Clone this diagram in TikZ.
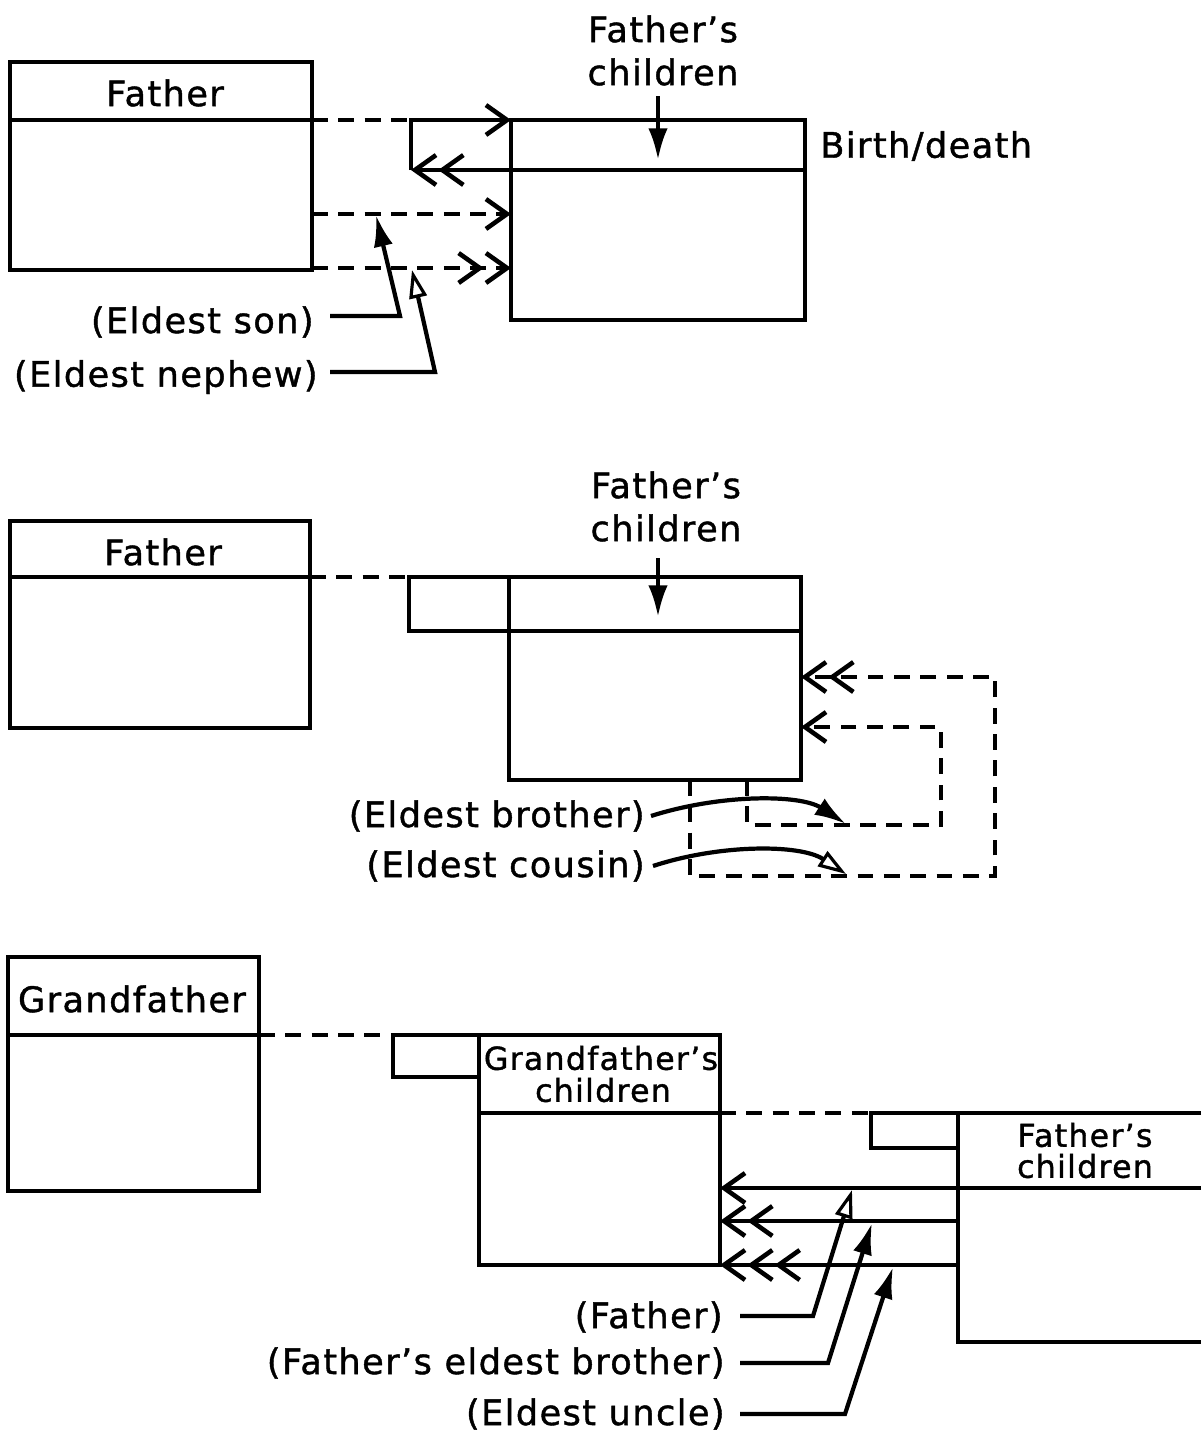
\documentclass[tikz,border=0pt]{standalone}
\usepackage{fontspec}
\setmainfont{DejaVu Sans}[LetterSpace=4,FakeBold=1.2]
\usetikzlibrary{arrows.meta}
\begin{document}
\begin{tikzpicture}[x=0.02cm,y=-0.02cm,
  ln/.style={line width=2.6pt, line join=miter},
  dsh/.style={line width=2.6pt, dash pattern=on 9pt off 6pt},
  lbl/.style={font=\fontsize{20}{22}\selectfont, inner sep=0pt},
  sml/.style={font=\fontsize{18}{20}\selectfont, inner sep=0pt},
  bA/.style={-{Straight Barb[length=12pt,width=17pt]}},
  bB/.style={-{Straight Barb[length=12pt,width=17pt,sep=0pt]Straight Barb[length=12pt,width=17pt]}},
  bC/.style={-{Straight Barb[length=12pt,width=17pt,sep=0pt]Straight Barb[length=12pt,width=17pt,sep=0pt]Straight Barb[length=12pt,width=17pt]}},
  pf/.style={line width=2.4pt,-{Latex[length=18pt,width=11pt]}},
  po/.style={line width=2.4pt,-{Triangle[open,length=16pt,width=10pt,line width=1.8pt]}}
]
\useasboundingbox (0,0) rectangle (1203,1434);

% ================= Section 1 =================
\draw[ln] (10,62) rectangle (312,270);
\draw[ln] (10,120) -- (312,120);
\node[lbl] (f1) at (165,93) {Father};

\draw[ln] (511,120) rectangle (805,320);
\node[lbl] (fc1a) at (663,29) {Father’s};
\node[lbl] (fc1b) at (663,72) {children};
\node[lbl,anchor=west] (bd) at (820,146) {Birth/death};
\coordinate (fc1in) at (658,160);
\draw[pf] (658,96) -- (fc1in);

\coordinate (c1) at (411,120);
\coordinate (c2) at (411,170);
\draw[dsh] (312,120) -- (c1);
\draw[ln,bA] (c2) -- (c1) -- (511,120);
\draw[ln,bB] (805,170) -- (c2);
\coordinate (d1) at (511,214);
\coordinate (d2) at (511,268);
\draw[dsh,bA] (312,214) -- (d1);
\draw[dsh,bB] (312,268) -- (d2);

\node[lbl,anchor=east] (es) at (314,322) {(Eldest son)};
\node[lbl,anchor=east] (en) at (318,377) {(Eldest nephew)};
\draw[pf] (330,316) -- (400,316) -- (376,215);
\draw[po] (330,372) -- (435,372) -- (412,270);

% ================= Section 2 =================
\draw[ln] (10,521) rectangle (310,728);
\draw[ln] (10,577) -- (310,577);
\node[lbl] (f2) at (163,552) {Father};

\draw[ln] (509,577) rectangle (801,780);
\draw[ln] (509,577) -- (409,577) -- (409,631) -- (801,631);
\node[lbl] (fc2a) at (666,485) {Father’s};
\node[lbl] (fc2b) at (666,528) {children};
\draw[pf] (658,558) -- (658,617);
\draw[dsh] (310,577) -- (409,577);

\coordinate (e1) at (801,727);
\coordinate (e2) at (801,677);
\draw[dsh,bA] (747,780) -- (747,825) -- (941,825) -- (941,727) -- (e1);
\draw[dsh,bB] (690,780) -- (690,876) -- (995,876) -- (995,677) -- (e2);

\node[lbl,anchor=east] (eb) at (645,816) {(Eldest brother)};
\node[lbl,anchor=east] (ec) at (645,866) {(Eldest cousin)};
\draw[pf] (eb.east) ++(6,0) .. controls (720,794) and (800,794) .. (846,824);
\draw[po] (ec.east) ++(8,0) .. controls (720,844) and (800,844) .. (846,874);

% ================= Section 3 =================
\draw[ln] (8,957) rectangle (259,1191);
\draw[ln] (8,1035) -- (259,1035);
\node[lbl] (gf) at (132,999) {Grandfather};
\draw[dsh] (259,1035) -- (393,1035);

\draw[ln] (393,1035) rectangle (479,1077);
\draw[ln] (479,1035) rectangle (720,1265);
\draw[ln] (479,1113) -- (720,1113);
\node[sml] (gca) at (601,1058) {Grandfather’s};
\node[sml] (gcb) at (603,1090) {children};
\draw[dsh] (720,1113) -- (871,1113);

\draw[ln] (871,1113) rectangle (958,1148);
\draw[ln] (1201,1113) -- (958,1113) -- (958,1342) -- (1201,1342);
\node[sml] (fc3a) at (1085,1135) {Father’s};
\node[sml] (fc3b) at (1085,1166) {children};

\coordinate (g1) at (720,1188);
\coordinate (g2) at (720,1221);
\coordinate (g3) at (720,1265);
\draw[ln,bA] (1201,1188) -- (g1);
\draw[ln,bB] (958,1221) -- (g2);
\draw[ln,bC] (958,1265) -- (g3);

\node[lbl,anchor=east] (pf1) at (723,1317) {(Father)};
\node[lbl,anchor=east] (pf2) at (725,1363) {(Father’s eldest brother)};
\node[lbl,anchor=east] (pf3) at (725,1414) {(Eldest uncle)};
\draw[po] (740,1316) -- (813,1316) -- (852,1190);
\draw[pf] (740,1363) -- (828,1363) -- (872,1223);
\draw[pf] (740,1414) -- (845,1414) -- (893,1267);
\end{tikzpicture}
\end{document}
